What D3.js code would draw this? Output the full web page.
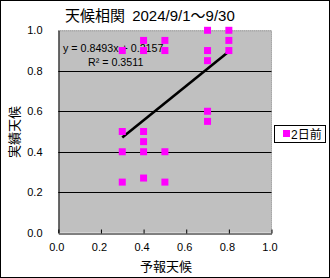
<!DOCTYPE html>
<html><head><meta charset="utf-8">
<script src="https://cdn.jsdelivr.net/npm/d3@7"></script>
<style>
html,body{margin:0;padding:0;background:#fff;}
svg{display:block;}
text{font-family:"Liberation Sans","Noto Sans CJK JP",sans-serif;fill:#000;}
</style></head>
<body>
<script>
const titleText = "天候相関 2024/9/1～9/30";
const xTitle = "予報天候";
const yTitle = "実績天候";
const seriesName = "2日前";
const xTicks = [0.0, 0.2, 0.4, 0.6, 0.8, 1.0];
const yTicks = [0.0, 0.2, 0.4, 0.6, 0.8, 1.0];
const forecast = [0.3,0.3,0.3,0.3, 0.4,0.4,0.4,0.4,0.4,0.4, 0.5,0.5,0.5,0.5, 0.7,0.7,0.7,0.7,0.7, 0.8,0.8,0.8];
const actual   = [0.9,0.5,0.4,0.25, 0.95,0.9,0.5,0.45,0.4,0.27, 0.95,0.9,0.4,0.25, 1.0,0.9,0.85,0.6,0.55, 1.0,0.95,0.9];
const slope = 0.8493, intercept = 0.2157, r2 = 0.3511;
const trendRange = [0.3, 0.8];

const W = 330, H = 278;
const svg = d3.select("body").append("svg").attr("width", W).attr("height", H);
svg.append("rect").attr("x",0.5).attr("y",0.5).attr("width",W-1).attr("height",H-1)
  .attr("fill","#fff").attr("stroke","#000");

const x = d3.scaleLinear().domain([0,1]).range([58.3, 271.5]);
const y = d3.scaleLinear().domain([0,1]).range([232.7, 30.3]);

// plot area
svg.append("rect").attr("x",x(0)).attr("y",y(1)).attr("width",x(1)-x(0)).attr("height",y(0)-y(1))
  .attr("fill","#C0C0C0");
// top/right border gray dotted
svg.append("path").attr("d",`M${x(0)},${y(1)+0.5}H${x(1)}V${y(0)}`)
  .attr("fill","none").attr("stroke","#808080").attr("stroke-width",1).attr("stroke-dasharray","1,1");
// gridlines
svg.append("g").selectAll("line").data(yTicks.filter(v=>v>0 && v<1)).join("line")
  .attr("x1",x(0)).attr("x2",x(1)).attr("y1",d=>Math.round(y(d))+0.5).attr("y2",d=>Math.round(y(d))+0.5)
  .attr("stroke","#000");

// x axis
const xAxis = d3.axisBottom(x).tickValues(xTicks).tickFormat(d3.format(".1f")).tickSizeInner(-4).tickSizeOuter(0).tickPadding(10);
const gx = svg.append("g").attr("transform",`translate(0,${Math.round(y(0))+0.5})`).call(xAxis);
gx.select(".domain").attr("stroke","#000");
gx.selectAll(".tick line").attr("stroke","#000");
gx.selectAll("text").attr("font-size",11).attr("font-family","Liberation Sans, sans-serif").attr("dy","0.71em").attr("dx","-2");

// y axis
const yAxis = d3.axisLeft(y).tickValues(yTicks).tickFormat(d3.format(".1f")).tickSize(0).tickPadding(16);
const gy = svg.append("g").attr("transform",`translate(${Math.round(x(0))+0.5},0)`).call(yAxis);
gy.select(".domain").attr("stroke","#000");
gy.selectAll("text").attr("font-size",11).attr("font-family","Liberation Sans, sans-serif");

// title
svg.append("text").attr("x",65).attr("y",21).attr("font-size",15).attr("word-spacing",3).text(titleText);
// axis titles
svg.append("text").attr("x",166).attr("y",271).attr("text-anchor","middle").attr("font-size",13).text(xTitle);
svg.append("text").attr("transform","translate(19,132) rotate(-90)").attr("text-anchor","middle").attr("font-size",13).text(yTitle);

// equation
svg.append("text").attr("x",63).attr("y",52).attr("font-size",10.7).text(`y = ${slope}x + ${intercept}`);
svg.append("text").attr("x",88).attr("y",66).attr("font-size",10.7).text(`R² = ${r2}`);

// trendline
svg.append("line").attr("x1",x(trendRange[0])).attr("y1",y(slope*trendRange[0]+intercept))
  .attr("x2",x(trendRange[1])).attr("y2",y(slope*trendRange[1]+intercept))
  .attr("stroke","#000").attr("stroke-width",2.6);

// points
const pts = forecast.map((f,i)=>({f, a: actual[i]}));
svg.append("g").selectAll("rect").data(pts).join("rect")
  .attr("x",d=>x(d.f)-3.5).attr("y",d=>y(d.a)-3.5).attr("width",7).attr("height",7)
  .attr("fill","#FF00FF");

// legend
svg.append("rect").attr("x",274.5).attr("y",125.5).attr("width",51).attr("height",17)
  .attr("fill","#fff").attr("stroke","#000");
svg.append("rect").attr("x",283).attr("y",130).attr("width",7).attr("height",7).attr("fill","#FF00FF");
svg.append("text").attr("x",291).attr("y",138.5).attr("font-size",12).text(seriesName);
</script>
</body></html>
